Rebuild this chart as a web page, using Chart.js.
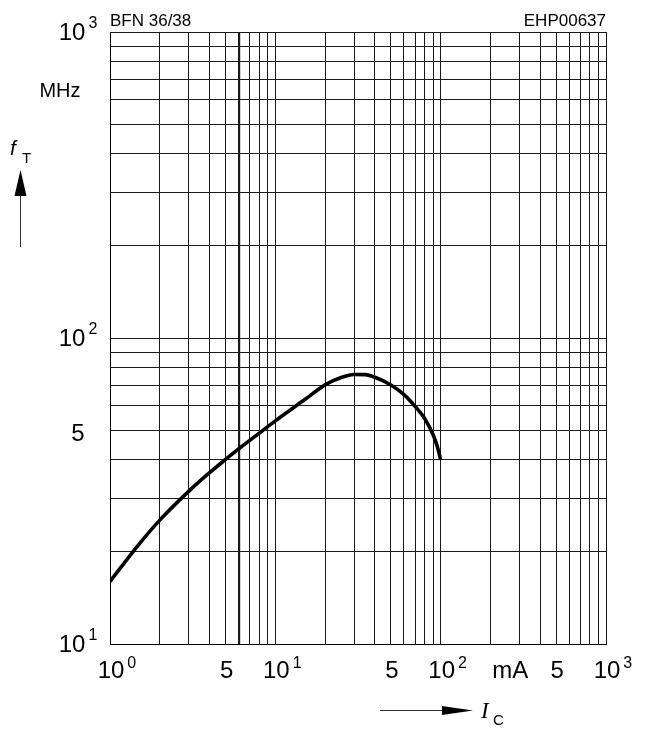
<!DOCTYPE html>
<html>
<head>
<meta charset="utf-8">
<title>fT = f(IC)</title>
<script src="https://cdn.jsdelivr.net/npm/chart.js@4"></script>
<style>
  html, body { margin: 0; padding: 0; background: #fff; }
  canvas { display: block; }
</style>
</head>
<body>
<canvas id="ftChart" width="650" height="731"></canvas>
<script>
// Collector current IC in mA
const collectorCurrent = [1, 1.5, 2, 3, 4, 5, 6, 8, 10, 15, 20, 25, 30, 35, 40, 50, 60, 70, 80, 90, 95, 100];
// Transition frequency fT in MHz
const transitionFreq = [16, 21.2, 25.4, 31.6, 36.3, 40.1, 43.4, 48.9, 53.6, 62.8, 70.3, 74.3, 76, 75.9, 74.4, 70.2, 65.3, 59.8, 54.6, 48.3, 44.5, 40];

// Grid lines of the log paper
const xGridValues = [1, 2, 3, 4, 5, 6, 7, 8, 9, 10, 20, 30, 40, 50, 60, 70, 80, 90, 100, 200, 300, 400, 500, 600, 700, 800, 900, 1000];
const yGridValues = [10, 20, 30, 40, 50, 60, 70, 80, 90, 100, 200, 300, 400, 500, 600, 700, 800, 900, 1000];
const xHeavyLine = 6;

// Tick labels: [base, exponent]
const xTickValues = [1, 5, 10, 50, 100, 260, 500, 1000];
const xTickLabels = [['10', '0'], ['5', ''], ['10', '1'], ['5', ''], ['10', '2'], ['mA', ''], ['5', ''], ['10', '3']];
const yTickValues = [10, 50, 100, 1000];
const yTickLabels = [['10', '1'], ['5', ''], ['10', '2'], ['10', '3']];

const SANS = '"Liberation Sans", Arial, Helvetica, sans-serif';

function drawPower(ctx, base, exp, cx, baseY, supY, centerWhole) {
    ctx.font = '24px ' + SANS;
    const wBase = ctx.measureText(base).width;
    ctx.font = '16px ' + SANS;
    const wExp = exp ? ctx.measureText(exp).width + 3 : 0;
    const left = centerWhole ? cx - (wBase + wExp) / 2 : cx - wBase / 2;
    ctx.textAlign = 'left';
    ctx.textBaseline = 'alphabetic';
    ctx.font = '24px ' + SANS;
    ctx.fillText(base, left, baseY);
    if (exp) {
        ctx.font = '16px ' + SANS;
        ctx.fillText(exp, left + wBase + 3, supY);
    }
}

const labelPlugin = {
    id: 'paperLabels',
    afterDraw(chart) {
        const ctx = chart.ctx;
        const xs = chart.scales.x;
        const ys = chart.scales.y;
        const area = chart.chartArea;
        ctx.save();
        ctx.fillStyle = '#000';

        // x axis labels
        xTickValues.forEach((v, i) => {
            const px = xs.getPixelForValue(v);
            const [base, exp] = xTickLabels[i];
            drawPower(ctx, base, exp, px + 1, 678, 668, false);
        });

        // y axis labels
        yTickValues.forEach((v, i) => {
            const py = ys.getPixelForValue(v);
            const [base, exp] = yTickLabels[i];
            const off = exp ? 8 : 11;
            drawPower(ctx, base, exp, 78, py + off, py - 4, true);
        });

        // unit and header texts
        ctx.textBaseline = 'alphabetic';
        ctx.font = '20px ' + SANS;
        ctx.textAlign = 'center';
        ctx.fillText('MHz', 60, 97);

        ctx.font = '17px ' + SANS;
        ctx.textAlign = 'left';
        ctx.fillText('BFN 36/38', area.left, 26);
        ctx.textAlign = 'right';
        ctx.fillText('EHP00637', area.right, 26);

        // fT with arrow
        ctx.textAlign = 'left';
        ctx.font = 'italic 21px ' + SANS;
        ctx.fillText('f', 10, 155);
        ctx.font = '15px ' + SANS;
        ctx.fillText('T', 22, 163);

        ctx.strokeStyle = '#333';
        ctx.lineWidth = 1;
        ctx.beginPath();
        ctx.moveTo(20.5, 247);
        ctx.lineTo(20.5, 192);
        ctx.stroke();
        ctx.beginPath();
        ctx.moveTo(20.5, 170);
        ctx.lineTo(26.5, 196);
        ctx.lineTo(14.5, 196);
        ctx.closePath();
        ctx.fill();

        // IC with arrow
        ctx.beginPath();
        ctx.moveTo(380, 710.5);
        ctx.lineTo(445, 710.5);
        ctx.stroke();
        ctx.beginPath();
        ctx.moveTo(473, 710.5);
        ctx.lineTo(442, 706);
        ctx.lineTo(442, 715);
        ctx.closePath();
        ctx.fill();

        ctx.font = 'italic 23px "Liberation Serif", "Times New Roman", serif';
        ctx.fillText('I', 481, 718);
        ctx.font = '15px ' + SANS;
        ctx.fillText('C', 493, 725);

        ctx.restore();
    }
};

const ctx = document.getElementById('ftChart');

const ftChart = new Chart(ctx.getContext('2d'), {
    type: 'line',
    data: {
        datasets: [{
            label: 'fT',
            data: collectorCurrent.map((c, i) => ({ x: c, y: transitionFreq[i] })),
            borderColor: '#000',
            borderWidth: 3.6,
            pointRadius: 0,
            cubicInterpolationMode: 'monotone',
            fill: false
        }]
    },
    options: {
        responsive: false,
        devicePixelRatio: 1,
        animation: false,
        layout: { padding: { top: 32, right: 44, left: 0, bottom: 0 } },
        plugins: {
            legend: { display: false },
            tooltip: { enabled: false }
        },
        scales: {
            x: {
                type: 'logarithmic',
                min: 1,
                max: 1000,
                afterFit: s => { s.height = 87; },
                afterBuildTicks: s => { s.ticks = xGridValues.map(v => ({ value: v })); },
                ticks: { display: false },
                grid: {
                    color: '#1a1a1a',
                    lineWidth: c => (c.tick && c.tick.value === xHeavyLine ? 2.2 : 1),
                    drawTicks: false
                },
                border: { color: '#000', width: 1 }
            },
            y: {
                type: 'logarithmic',
                min: 10,
                max: 1000,
                afterFit: s => { s.width = 110; },
                afterBuildTicks: s => { s.ticks = yGridValues.map(v => ({ value: v })); },
                ticks: { display: false },
                grid: { color: '#1a1a1a', lineWidth: 1, drawTicks: false },
                border: { color: '#000', width: 1 }
            }
        }
    },
    plugins: [labelPlugin]
});
</script>
</body>
</html>
